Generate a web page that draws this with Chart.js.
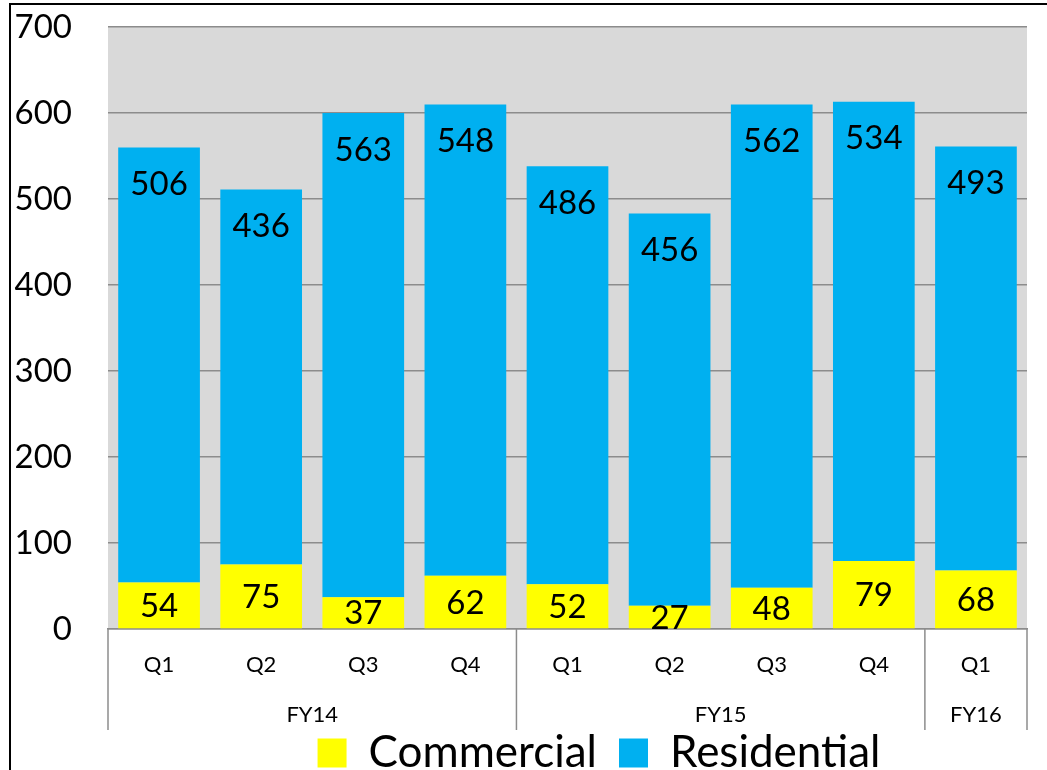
<!DOCTYPE html>
<html>
<head>
<meta charset="utf-8">
<script src="https://cdn.jsdelivr.net/npm/chart.js@4"></script>
<style>
  html, body { margin: 0; padding: 0; background: #fff; overflow: hidden; }
  #frame { position: absolute; left: 9px; top: 3px; width: 1038px; height: 850px;
           border-left: 2px solid #000; border-top: 2px solid #000; }
  #box { position: relative; width: 1036px; height: 840px; }
</style>
</head>
<body>
<div id="frame"><div id="box"><canvas id="chart"></canvas></div></div>
<script>
const quarters = ["Q1", "Q2", "Q3", "Q4", "Q1", "Q2", "Q3", "Q4", "Q1"];
const fiscalYears = ["FY14", "FY14", "FY14", "FY14", "FY15", "FY15", "FY15", "FY15", "FY16"];
const commercial = [54, 75, 37, 62, 52, 27, 48, 79, 68];
const residential = [506, 436, 563, 548, 486, 456, 562, 534, 493];

const FONT = "Lato, 'Open Sans', sans-serif";
const GRID = "#8c8c8c";

// grey plot area behind everything
const plotBackground = {
  id: "plotBackground",
  beforeDraw(chart) {
    const { ctx, chartArea: a } = chart;
    ctx.save();
    ctx.fillStyle = "#d9d9d9";
    ctx.fillRect(a.left, a.top, a.right - a.left, a.bottom - a.top);
    ctx.restore();
  },
};

// value labels at the inside end of each segment
const barLabels = {
  id: "barLabels",
  afterDatasetsDraw(chart) {
    const ctx = chart.ctx;
    ctx.save();
    ctx.font = "33px " + FONT;
    ctx.fillStyle = "#000";
    ctx.textAlign = "center";
    ctx.textBaseline = "middle";
    chart.data.datasets.forEach((ds, i) => {
      chart.getDatasetMeta(i).data.forEach((bar, j) => {
        const top = Math.min(bar.y, bar.base);
        const bottom = Math.max(bar.y, bar.base);
        const cy = top + Math.min(36, (bottom - top) / 2) + 1;
        ctx.fillText(ds.data[j], bar.x, cy);
      });
    });
    ctx.restore();
  },
};

// second row of category labels (fiscal years) with separators
const groupAxis = {
  id: "groupAxis",
  afterDraw(chart) {
    const { ctx } = chart;
    const xs = chart.scales.x;
    const n = quarters.length;
    const w = (xs.right - xs.left) / n;
    ctx.save();
    ctx.strokeStyle = GRID;
    ctx.lineWidth = 1.5;
    ctx.fillStyle = "#000";
    ctx.font = "22px " + FONT;
    ctx.textAlign = "center";
    ctx.textBaseline = "middle";
    let start = 0;
    const line = (x) => {
      ctx.beginPath();
      ctx.moveTo(x, xs.top);
      ctx.lineTo(x, xs.bottom);
      ctx.stroke();
    };
    line(xs.getPixelForValue(0) - w / 2);
    for (let i = 1; i <= n; i++) {
      if (i === n || fiscalYears[i] !== fiscalYears[start]) {
        const x0 = xs.getPixelForValue(start) - w / 2;
        const x1 = xs.getPixelForValue(i - 1) + w / 2;
        line(x1);
        ctx.fillText(fiscalYears[start], (x0 + x1) / 2, xs.top + 86);
        start = i;
      }
    }
    ctx.restore();
  },
};

// move the legend right and up, as in the source
const legendShift = {
  id: "legendShift",
  afterLayout(chart) {
    chart.legend.left += 80;
    chart.legend.right += 80;
    chart.legend.top -= 21;
    chart.legend.bottom -= 21;
  },
};

new Chart(document.getElementById("chart"), {
  type: "bar",
  data: {
    labels: quarters,
    datasets: [
      {
        label: "Commercial",
        data: commercial,
        backgroundColor: "#FFFF00",
        borderWidth: 0,
        barPercentage: 0.8,
        categoryPercentage: 1,
      },
      {
        label: "Residential",
        data: residential,
        backgroundColor: "#00B0F0",
        borderWidth: 0,
        barPercentage: 0.8,
        categoryPercentage: 1,
      },
    ],
  },
  options: {
    responsive: true,
    maintainAspectRatio: false,
    animation: false,
    layout: { padding: { top: 22, right: 20, left: 0, bottom: 39 } },
    plugins: {
      legend: {
        display: true,
        position: "bottom",
        labels: {
          boxWidth: 29,
          boxHeight: 29,
          padding: 22,
          color: "#000",
          font: { family: FONT, size: 44 },
        },
      },
      tooltip: { enabled: false },
    },
    scales: {
      x: {
        stacked: true,
        grid: { display: false },
        border: { display: true, color: GRID, width: 1.5 },
        ticks: { color: "#000", font: { family: FONT, size: 22 }, padding: 15 },
        afterFit(scale) { scale.height = 101; },
      },
      y: {
        stacked: true,
        min: 0,
        max: 700,
        grid: { color: GRID, lineWidth: 1.5, drawTicks: false },
        border: { display: false },
        ticks: { stepSize: 100, color: "#000", font: { family: FONT, size: 33 }, padding: 36 },
        afterFit(scale) {
          scale.width = 97;
          scale.paddingTop = 0;
          scale.paddingBottom = 0;
        },
      },
    },
  },
  plugins: [plotBackground, barLabels, groupAxis, legendShift],
});
</script>
</body>
</html>
